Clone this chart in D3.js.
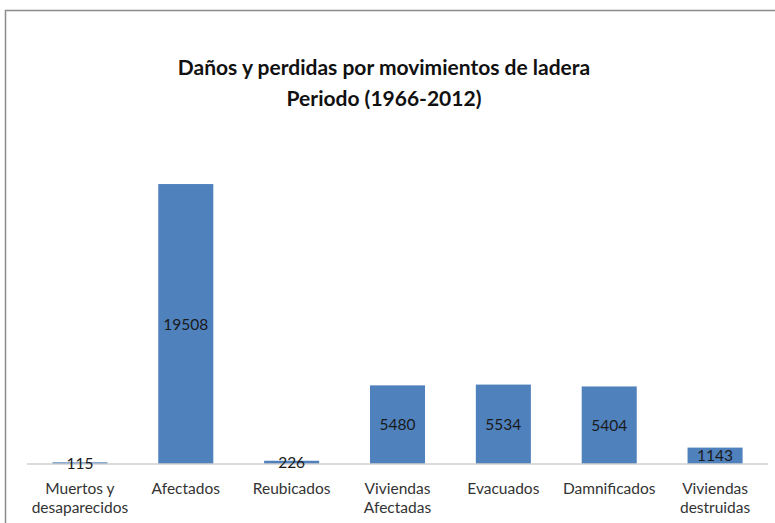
<!DOCTYPE html>
<html>
<head>
<meta charset="utf-8">
<script src="https://cdn.jsdelivr.net/npm/d3@7"></script>
<style>
  body { margin: 0; background: #fff; }
  svg { display: block; font-family: Lato, "Open Sans", sans-serif; }
</style>
</head>
<body>
<svg id="chart" width="775" height="523"></svg>
<script>
// categories (two-line labels) and values
var categories = [
  ['Muertos y', 'desaparecidos'],
  ['Afectados'],
  ['Reubicados'],
  ['Viviendas', 'Afectadas'],
  ['Evacuados'],
  ['Damnificados'],
  ['Viviendas', 'destruidas']
]
var values = [115, 19508, 226, 5480, 5534, 5404, 1143]
var titleLines = ['Daños y perdidas por movimientos de ladera', 'Periodo (1966-2012)']

var svg = d3.select('#chart')
var W = 775, H = 523

// outer frame
svg.append('rect')
  .attr('x', 5.5).attr('y', 10.5).attr('width', W - 3).attr('height', H)
  .attr('fill', '#fff').attr('stroke', '#8c8c8c').attr('stroke-width', 1.5)

var margin = {left: 27, right: 7, top: 177, bottom: 59}
var x = d3.scaleBand()
  .domain(d3.range(categories.length))
  .range([margin.left, W - margin.right])
  .paddingInner(0.48).paddingOuter(0.24)
var y = d3.scaleLinear().domain([0, 20000]).range([H - margin.bottom, margin.top])

// bars
svg.append('g').selectAll('rect').data(values).join('rect')
  .attr('x', function(d, i){ return x(i) })
  .attr('width', x.bandwidth())
  .attr('y', function(d){ return y(d) })
  .attr('height', function(d){ return y(0) - y(d) })
  .attr('fill', '#4f81bd')

// baseline
svg.append('line')
  .attr('x1', margin.left).attr('x2', W - margin.right)
  .attr('y1', y(0)).attr('y2', y(0))
  .attr('stroke', '#d0d0d0').attr('stroke-width', 1.5)

// value labels, centred in each bar
svg.append('g').selectAll('text').data(values).join('text')
  .attr('x', function(d, i){ return x(i) + x.bandwidth() / 2 })
  .attr('y', function(d){ return (y(d) + y(0)) / 2 })
  .attr('dy', '0.36em')
  .attr('text-anchor', 'middle')
  .attr('font-size', 15.5)
  .attr('fill', '#1a1a1a')
  .text(function(d){ return d })

// category labels
var catG = svg.append('g')
categories.forEach(function(lines, i){
  var t = catG.append('text')
    .attr('x', x(i) + x.bandwidth() / 2)
    .attr('y', y(0) + 30)
    .attr('text-anchor', 'middle')
    .attr('font-size', 15.5)
    .attr('fill', '#333')
  lines.forEach(function(s, j){
    t.append('tspan').attr('x', x(i) + x.bandwidth() / 2).attr('dy', j ? 19 : 0).text(s)
  })
})

// title
titleLines.forEach(function(s, j){
  svg.append('text')
    .attr('x', 384).attr('y', 75 + j * 31)
    .attr('text-anchor', 'middle')
    .attr('font-size', 21).attr('font-weight', 700)
    .attr('fill', '#111')
    .text(s)
})
</script>
</body>
</html>
